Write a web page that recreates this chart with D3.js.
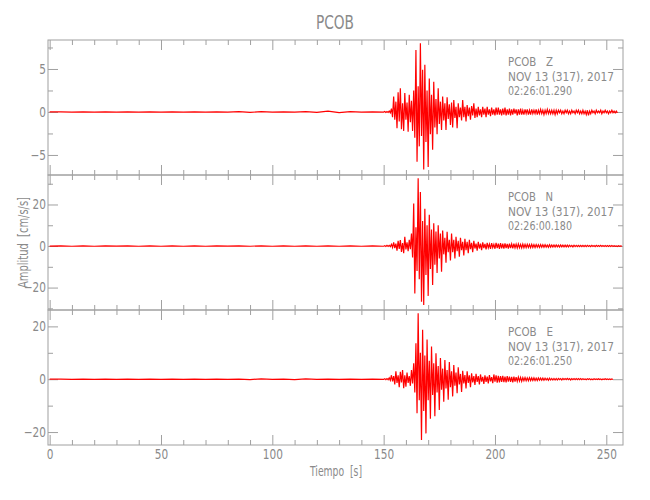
<!DOCTYPE html>
<html><head><meta charset="utf-8">
<script src="https://cdn.jsdelivr.net/npm/d3@7"></script>
<style>
body{margin:0;background:#fff;}
text{font-family:"DejaVu Sans","Liberation Sans",sans-serif;fill:#8a8a8a;}
</style></head>
<body><svg id="c" width="650" height="500"></svg>
<script>
// ---- data ----
const title = "PCOB";
const station = "PCOB";
const components = ["Z", "N", "E"];
const dateLabel = "NOV 13 (317), 2017";
const startTimes = ["02:26:01.290", "02:26:00.180", "02:26:01.250"];
const xTickLabels = [0, 50, 100, 150, 200, 250];
const yTicksZ = [-5, 0, 5];
const yTicksN = [-20, 0, 20];
const yTicksE = [-20, 0, 20];
const preStep = 5;      // seconds between pre-event samples (0..150 s)
const evtStart = 150.5; // first event sample time
const evtStep = 0.5;

// pre-event noise, 0..150 s every 5 s
const zPre = [0,0.02,-0.02,0.02,-0.02,0.02,-0.02,0.02,-0.02,0.02,-0.02,0.02,-0.02,0.02,-0.02,0.02,-0.02,0.03,-0.05,0.04,-0.02,0.02,-0.02,0.03,-0.04,0.1,-0.08,0.03,-0.02,0.02,-0.02];
const nPre = [0,0.1,-0.1,0.08,-0.1,0.1,-0.08,0.1,-0.1,0.08,-0.1,0.1,-0.1,0.08,-0.1,0.1,-0.08,0.1,-0.1,0.1,-0.1,0.08,-0.1,0.1,-0.1,0.12,-0.1,0.1,-0.1,0.1,-0.1];
const ePre = [0,0.06,-0.06,0.05,-0.06,0.06,-0.05,0.06,-0.06,0.05,-0.06,0.06,-0.06,0.05,-0.06,0.06,-0.08,0.06,-0.15,0.15,-0.06,0.06,-0.12,0.15,-0.06,0.06,-0.08,0.06,-0.06,0.06,-0.08];

// event samples every 0.5 s from 150.5 s (acceleration, cm/s/s)
const zEvt = [
0.05,-0.05, 0.05,-0.05, 0.1,-0.1, 0.4,-0.6, 1.8,-0.9, 1.2,-1.9, 2.3,-1.1, 2.75,-2.0, 1.0,-2.2, 2.2,-0.9,
1.1,-2.3, 2.0,-1.2, 1.3,-2.2, 2.5,-3.0, 7.2,-5.8, 3.0,-4.0, 8.0,-2.8, 4.9,-6.7, 5.5,-3.5, 2.5,-6.4,
3.9,-2.6, 2.0,-4.4, 3.5,-1.8, 1.5,-2.6, 2.75,-1.4, 1.2,-2.1, 1.8,-1.0, 1.0,-2.1, 1.7,-0.8, 0.9,-1.5,
1.1,-1.8, 1.4,-0.7, 0.6,-1.9, 1.0,-0.6, 0.5,-1.0, 1.4,-0.6, 0.6,-1.1, 0.8,-0.5, 0.5,-0.9, 0.7,-0.4,
1.0,-0.7, 0.4,-0.6, 0.6,-0.4, 0.3,-0.6, 0.6,-0.3, 0.4,-0.6, 0.6,-0.3, 0.3,-0.5, 0.5,-0.3, 0.3,-0.4,
0.5,-0.3,
0.5,-0.3, 0.3,-0.4, 0.4,-0.3, 0.5,-0.4, 0.3,-0.3, 0.4,-0.4, 0.3,-0.3, 0.4,-0.2, 0.3,-0.4,
0.3,-0.3, 0.4,-0.3, 0.2,-0.3, 0.3,-0.2, 0.3,-0.3, 0.2,-0.3, 0.3,-0.2, 0.2,-0.2, 0.3,-0.3, 0.2,-0.2,
0.3,-0.2, 0.2,-0.3, 0.2,-0.2, 0.3,-0.2, 0.2,-0.2, 0.2,-0.2, 0.2,-0.3, 0.2,-0.2, 0.2,-0.1, 0.2,-0.2,
0.1,-0.2, 0.2,-0.1, 0.2,-0.2, 0.1,-0.2, 0.2,-0.1, 0.1,-0.2, 0.2,-0.1, 0.2,-0.2, 0.1,-0.2, 0.2,-0.2,
0.1,-0.3, 0.2,-0.4, 0.1,-0.2, 0.2,-0.1, 0.1,-0.2, 0.2,-0.1, 0.1,-0.1, 0.2,-0.2, 0.1,-0.1, 0.2,-0.1,
0.1,-0.2, 0.1,-0.1, 0.2,-0.1, 0.1,-0.1, 0.1,-0.1];
const nEvt = [
0.2,-0.2, 0.3,-0.2, 0.3,-0.3, 0.8,-0.7, 1.8,-1.0, 1.2,-2.2, 2.5,-1.4, 2.9,-2.8, 1.4,-3.5, 4.5,-1.6,
1.8,-2.5, 3.0,-1.5, 6.0,-5.5, 20.5,-22.8, 9,-12, 32.6,-16, 26,-26.8, 12,-28.4, 18,-14, 10,-24,
15,-11, 8,-18.8, 11,-9, 7,-13, 10,-6, 6,-12.4, 7.5,-4, 4,-8, 6.9,-3, 3,-7,
6,-3, 3,-6, 4.5,-2.5, 2.5,-5.1, 4,-2, 2,-4.5, 3.5,-2, 2,-3.5, 3,-1.5, 1.5,-3,
2.5,-1.2, 1.2,-2.2, 2,-1.2, 1.2,-2, 1.8,-1, 1,-1.6, 1.5,-0.9, 0.9,-1.4, 1.4,-0.8, 0.8,-1.3,
1.5,-1.0,
1.2,-1.4, 1.4,-1.1, 1.1,-1.3, 1.3,-1.0, 1.0,-1.2, 1.2,-1.0, 1.0,-1.1, 1.1,-0.9, 0.9,-1.0,
1.0,-0.8, 0.8,-0.9, 0.9,-0.8, 0.8,-0.8, 0.8,-0.7, 0.7,-0.8, 0.8,-0.7, 0.7,-0.7, 0.7,-0.6, 0.6,-0.7,
0.7,-0.6, 0.6,-0.6, 0.6,-0.5, 0.5,-0.6, 0.6,-0.5, 0.5,-0.5, 0.5,-0.5, 0.5,-0.4, 0.4,-0.5, 0.5,-0.4,
0.4,-0.4, 0.4,-0.4, 0.4,-0.4, 0.4,-0.3, 0.3,-0.4, 0.4,-0.3, 0.3,-0.3, 0.3,-0.3, 0.3,-0.3, 0.3,-0.3,
0.3,-0.3, 0.3,-0.2, 0.2,-0.3, 0.3,-0.2, 0.2,-0.3, 0.3,-0.2, 0.2,-0.2, 0.3,-0.2, 0.2,-0.2, 0.2,-0.2,
0.2,-0.2, 0.2,-0.2, 0.2,-0.2, 0.2,-0.1, 0.1,-0.2, 0.2,-0.1, 0.1,-0.1];
const eEvt = [
0.2,-0.2, 0.2,-0.2, 0.5,-0.4, 1.5,-0.8, 1.2,-2.0, 3.0,-1.4, 1.5,-3.0, 2.8,-1.2, 3.5,-3.4, 1.5,-2.8,
2.5,-1.4, 1.2,-2.5, 3.5,-1.6, 6.0,-5.0, 13.6,-12.9, 25,-8, 10,-23, 18.7,-12, 9,-20.5, 15,-8,
7,-15, 12.4,-6, 6,-14, 9.8,-5, 5,-11.6, 8,-4, 4,-8.5, 7.3,-3.5, 3.5,-7.8, 6.5,-3,
3,-6.5, 5.4,-2.5, 2.5,-5.3, 4.5,-2, 2,-4.8, 3.2,-1.6, 1.6,-3.5, 3.0,-1.4, 1.5,-3, 2.2,-1.2,
1.2,-2.2, 2,-1, 1.2,-2, 1.8,-0.9, 0.9,-1.8, 1.5,-1, 1,-1.6, 1.6,-0.8, 0.8,-1.5, 1.8,-0.9,
1.5,-1.3,
1.3,-1.2, 1.2,-1.0, 1.3,-1.1, 1.0,-1.2, 1.2,-0.9, 1.0,-1.0, 0.9,-1.2, 1.0,-0.9, 0.8,-0.8,
0.8,-0.7, 0.7,-0.8, 0.6,-0.6, 0.6,-0.6, 0.5,-0.6, 0.6,-0.5, 0.5,-0.5, 0.5,-0.5, 0.4,-0.5, 0.5,-0.4,
0.4,-0.4, 0.4,-0.4, 0.4,-0.3, 0.3,-0.4, 0.4,-0.3, 0.3,-0.3, 0.3,-0.3, 0.3,-0.3, 0.3,-0.2, 0.2,-0.3,
0.3,-0.2, 0.2,-0.2, 0.3,-0.2, 0.2,-0.3, 0.2,-0.2, 0.2,-0.2, 0.2,-0.2, 0.2,-0.2, 0.2,-0.2, 0.2,-0.1,
0.1,-0.2, 0.2,-0.1, 0.2,-0.2, 0.1,-0.2, 0.2,-0.1, 0.1,-0.1, 0.2,-0.1, 0.1,-0.2, 0.1,-0.1, 0.2,-0.1,
0.1,-0.1, 0.1,-0.1, 0.1,-0.1];

// ---- chart ----
const svg = d3.select("#c");
const L = 48, R = 623, T = 40, PH = 135;
const x = d3.scaleLinear().domain([-0.75, 257.5]).range([L, R]);

const panels = [
  {comp: components[0], pre: zPre, evt: zEvt, dom: [-7.33, 8.37], ticks: yTicksZ, minor: 2.5, time: startTimes[0]},
  {comp: components[1], pre: nPre, evt: nEvt, dom: [-30.8, 34.2], ticks: yTicksN, minor: 10, time: startTimes[1]},
  {comp: components[2], pre: ePre, evt: eEvt, dom: [-24.9, 26.2], ticks: yTicksE, minor: 10, time: startTimes[2]}
];

const lineCol = "#a0a0a0";
const fs = 13.5;
const annFs = 12;
const xMinor = d3.range(0, 258, 10).filter(v => v % 50 !== 0);

function styleAxis(g) {
  g.select(".domain").remove();
  g.selectAll(".tick line").attr("stroke", lineCol).attr("stroke-width", 1);
  g.selectAll(".tick text").style("font-size", fs + "px").attr("fill", "#8a8a8a")
    .each(function () {
      const t = d3.select(this);
      const tx = +t.attr("x") || 0, ty = +t.attr("y") || 0;
      t.attr("x", 0).attr("y", 0).attr("transform", `translate(${tx},${ty}) scale(0.78,1)`);
    });
}

svg.append("defs");
panels.forEach((p, i) => {
  const top = T + i * PH, bot = top + PH;
  const y = d3.scaleLinear().domain(p.dom).range([bot, top]);
  const yMinor = d3.range(Math.ceil(p.dom[0] / p.minor) * p.minor, p.dom[1], p.minor)
    .filter(v => !p.ticks.includes(v));

  svg.select("defs").append("clipPath").attr("id", "clip" + i)
    .append("rect").attr("x", L).attr("y", top).attr("width", R - L).attr("height", PH);

  const g = svg.append("g");
  g.append("g").attr("transform", `translate(0,${top})`)
    .call(d3.axisTop(x).tickValues(xTickLabels).tickSize(-10).tickFormat("")).call(styleAxis);
  g.append("g").attr("transform", `translate(0,${top})`)
    .call(d3.axisTop(x).tickValues(xMinor).tickSize(-5).tickFormat("")).call(styleAxis);
  const isLast = i === panels.length - 1;
  g.append("g").attr("transform", `translate(0,${bot})`)
    .call(d3.axisBottom(x).tickValues(xTickLabels).tickSize(-10).tickPadding(4)
      .tickFormat(isLast ? d3.format("d") : "")).call(styleAxis);
  g.append("g").attr("transform", `translate(0,${bot})`)
    .call(d3.axisBottom(x).tickValues(xMinor).tickSize(-5).tickFormat("")).call(styleAxis);
  g.append("g").attr("transform", `translate(${L},0)`)
    .call(d3.axisLeft(y).tickValues(p.ticks).tickSize(-10).tickPadding(2)).call(styleAxis);
  g.append("g").attr("transform", `translate(${L},0)`)
    .call(d3.axisLeft(y).tickValues(yMinor).tickSize(-5).tickFormat("")).call(styleAxis);
  g.append("g").attr("transform", `translate(${R},0)`)
    .call(d3.axisRight(y).tickValues(p.ticks).tickSize(-10).tickFormat("")).call(styleAxis);
  g.append("g").attr("transform", `translate(${R},0)`)
    .call(d3.axisRight(y).tickValues(yMinor).tickSize(-5).tickFormat("")).call(styleAxis);

  const pts = p.pre.map((v, k) => [k * preStep, v])
    .concat(p.evt.map((v, k) => [evtStart + k * evtStep, v]));
  const line = d3.line().x(d => x(d[0])).y(d => y(d[1]));
  g.append("path").datum(pts).attr("d", line).attr("clip-path", `url(#clip${i})`)
    .attr("fill", "none").attr("stroke", "#ff0000").attr("stroke-width", 1.2);

  g.append("rect").attr("x", L).attr("y", top).attr("width", R - L).attr("height", PH)
    .attr("fill", "none").attr("stroke", lineCol).attr("stroke-width", 1);

  const tx = 508;
  const lines = [[`${station}   ${p.comp}`, 26, 45], [dateLabel, 40.5, 106], [p.time, 55, 64]];
  lines.forEach(([s, dy, w]) => {
    g.append("text").attr("x", tx).attr("y", top + dy).style("font-size", annFs + "px")
      .style("white-space", "pre").attr("textLength", w).attr("lengthAdjust", "spacingAndGlyphs").text(s);
  });
});

svg.append("text").attr("x", 335).attr("y", 29).attr("text-anchor", "middle")
  .style("font-size", "20px").attr("textLength", 38).attr("lengthAdjust", "spacingAndGlyphs").text(title);
svg.append("text").attr("x", 310).attr("y", 476)
  .style("font-size", fs + "px").style("white-space", "pre")
  .attr("textLength", 52).attr("lengthAdjust", "spacingAndGlyphs").text("Tiempo  [s]");
svg.append("text").attr("transform", "translate(28,288) rotate(-90)")
  .style("font-size", fs + "px").style("white-space", "pre")
  .attr("textLength", 91).attr("lengthAdjust", "spacingAndGlyphs").text("Amplitud  [cm/s/s]");
</script></body></html>
